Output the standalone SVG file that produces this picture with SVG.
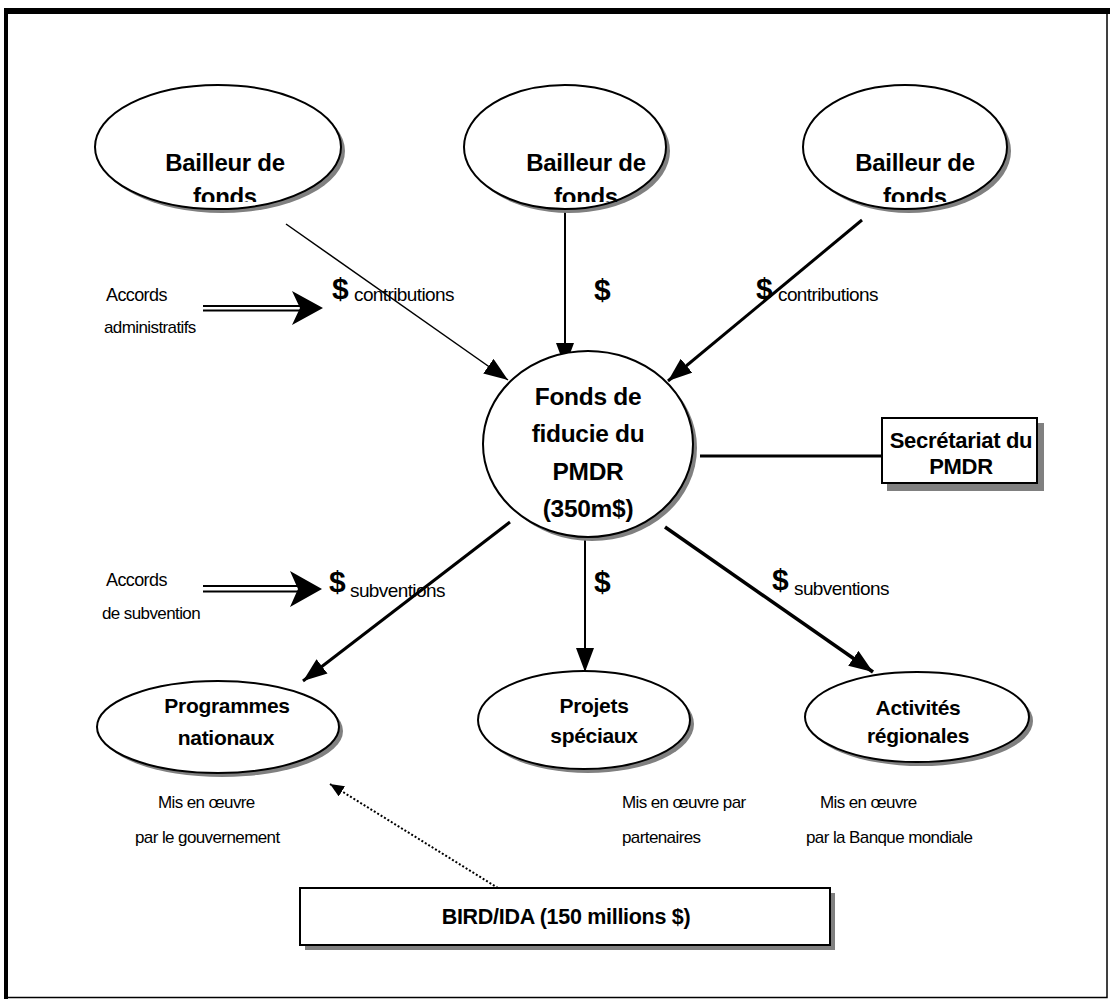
<svg xmlns="http://www.w3.org/2000/svg" width="1110" height="999" viewBox="0 0 1110 999">
<style>
.sh{fill:#808080;stroke:none}
.nd{fill:#fff;stroke:#000;stroke-width:2}
.b{font-family:"Liberation Sans",Arial,sans-serif;font-weight:bold;fill:#000;text-anchor:middle;letter-spacing:-0.3px}
.t{font-family:"Liberation Sans",Arial,sans-serif;fill:#000;letter-spacing:-0.6px}
.d{font-family:"Liberation Sans",Arial,sans-serif;font-weight:bold;font-size:30px;fill:#000}
.ln{stroke:#000;fill:none}
</style>
<defs>
<marker id="ah" viewBox="0 0 24 18" markerWidth="24" markerHeight="18" refX="24" refY="9" orient="auto" markerUnits="userSpaceOnUse">
<path d="M0,0 L24,9 L0,18 Z" fill="#000"/>
</marker>
<marker id="ahs" viewBox="0 0 14 12" markerWidth="14" markerHeight="12" refX="14" refY="6" orient="auto" markerUnits="userSpaceOnUse">
<path d="M0,0 L14,6 L0,12 Z" fill="#000"/>
</marker>
<clipPath id="c1"><rect x="80" y="80" width="280" height="122"/></clipPath>
<clipPath id="c2"><rect x="450" y="80" width="240" height="122"/></clipPath>
<clipPath id="c3"><rect x="790" y="80" width="240" height="122"/></clipPath>
</defs>
<rect width="1110" height="999" fill="#fff"/>
<g id="frame">
<rect x="6" y="11" width="1101" height="986.5" fill="none" stroke="#000" stroke-width="1.5"/>
<rect x="4" y="8" width="1106" height="6" fill="#000"/>
<rect x="4" y="8" width="4" height="991" fill="#000"/>
</g>
<g id="connectors">
<line class="ln" x1="286" y1="224" x2="508" y2="380" stroke-width="1.5" marker-end="url(#ah)"/>
<line class="ln" x1="565" y1="210" x2="565" y2="367" stroke-width="2" marker-end="url(#ah)"/>
<line class="ln" x1="862" y1="220" x2="668" y2="381" stroke-width="3" marker-end="url(#ah)"/>
<line class="ln" x1="510" y1="522" x2="303" y2="681" stroke-width="3" marker-end="url(#ah)"/>
<line class="ln" x1="585" y1="540" x2="585" y2="672" stroke-width="2" marker-end="url(#ah)"/>
<line class="ln" x1="665" y1="527" x2="873" y2="672" stroke-width="3.5" marker-end="url(#ah)"/>
<line class="ln" x1="700" y1="456" x2="882" y2="456" stroke-width="3"/>
<line class="ln" x1="498" y1="888" x2="330" y2="784" stroke-width="2" stroke-dasharray="2 2" marker-end="url(#ahs)"/>
<g id="dbl1">
<line class="ln" x1="203" y1="306" x2="300" y2="306" stroke-width="2"/>
<line class="ln" x1="203" y1="310.5" x2="300" y2="310.5" stroke-width="2"/>
<path d="M323,308 L292,291 L300,308 L292,325 Z" fill="#000"/>
</g>
<g id="dbl2">
<line class="ln" x1="203" y1="586" x2="298" y2="586" stroke-width="2"/>
<line class="ln" x1="203" y1="591.5" x2="298" y2="591.5" stroke-width="2"/>
<path d="M322,589 L290,571 L298,589 L290,607 Z" fill="#000"/>
</g>
</g>
<g id="n-bailleur1">
<ellipse class="sh" cx="222" cy="151" rx="123" ry="62"/>
<ellipse class="nd" cx="218" cy="147" rx="123" ry="62"/>
<g clip-path="url(#c1)"><text class="b" font-size="24" x="225" y="171">Bailleur de</text><text class="b" font-size="24" x="225" y="205">fonds</text></g>
</g>
<g id="n-bailleur2">
<ellipse class="sh" cx="569" cy="151" rx="101" ry="62"/>
<ellipse class="nd" cx="565" cy="147" rx="101" ry="62"/>
<g clip-path="url(#c2)"><text class="b" font-size="24" x="586" y="171">Bailleur de</text><text class="b" font-size="24" x="586" y="205">fonds</text></g>
</g>
<g id="n-bailleur3">
<ellipse class="sh" cx="909" cy="151" rx="102" ry="62"/>
<ellipse class="nd" cx="905" cy="147" rx="102" ry="62"/>
<g clip-path="url(#c3)"><text class="b" font-size="24" x="915" y="171">Bailleur de</text><text class="b" font-size="24" x="915" y="205">fonds</text></g>
</g>
<g id="n-fonds">
<ellipse class="sh" cx="592" cy="448" rx="105" ry="93"/>
<ellipse class="nd" cx="588" cy="444" rx="105" ry="93"/>
<text class="b" font-size="24.5" x="588" y="405">Fonds de</text>
<text class="b" font-size="24.5" x="588" y="442">fiducie du</text>
<text class="b" font-size="24.5" x="588" y="480">PMDR</text>
<text class="b" font-size="24.5" x="588" y="517">(350m$)</text>
</g>
<g id="n-secretariat">
<rect class="sh" x="887" y="423" width="157" height="68"/>
<rect class="nd" x="882" y="418" width="155" height="65"/>
<text class="b" font-size="22" x="961" y="448">Secrétariat du</text>
<text class="b" font-size="22" x="961" y="474">PMDR</text>
</g>
<g id="n-programmes">
<ellipse class="sh" cx="222" cy="731" rx="121" ry="46"/>
<ellipse class="nd" cx="218" cy="727" rx="121" ry="46"/>
<text class="b" font-size="21" x="227" y="713">Programmes</text>
<text class="b" font-size="21" x="226" y="745">nationaux</text>
</g>
<g id="n-projets">
<ellipse class="sh" cx="588" cy="724" rx="106" ry="49"/>
<ellipse class="nd" cx="584" cy="720" rx="106" ry="49"/>
<text class="b" font-size="21" x="594" y="713">Projets</text>
<text class="b" font-size="21" x="594" y="743">spéciaux</text>
</g>
<g id="n-activites">
<ellipse class="sh" cx="921" cy="721" rx="112" ry="45"/>
<ellipse class="nd" cx="917" cy="717" rx="112" ry="45"/>
<text class="b" font-size="21" x="918" y="715">Activités</text>
<text class="b" font-size="21" x="918" y="743">régionales</text>
</g>
<g id="n-bird">
<rect class="sh" x="305" y="893" width="530" height="57"/>
<rect class="nd" x="300" y="888" width="530" height="57"/>
<text class="b" font-size="21.5" x="566" y="924">BIRD/IDA (150 millions $)</text>
</g>
<g id="labels">
<text class="t" font-size="18" x="106" y="301">Accords</text>
<text class="t" font-size="17" x="104" y="333">administratifs</text>
<text class="t" font-size="18" x="106" y="586">Accords</text>
<text class="t" font-size="17" x="102" y="619">de subvention</text>
<text class="d" x="332" y="299">$</text><text class="t" font-size="19" x="354" y="301" letter-spacing="-0.3">contributions</text>
<text class="d" x="594" y="300">$</text>
<text class="d" x="756" y="299">$</text><text class="t" font-size="19" x="778" y="301" letter-spacing="-0.3">contributions</text>
<text class="d" x="329" y="592">$</text><text class="t" font-size="19" x="350" y="597" letter-spacing="-0.3">subventions</text>
<text class="d" x="594" y="592">$</text>
<text class="d" x="772" y="590">$</text><text class="t" font-size="19" x="794" y="595" letter-spacing="-0.3">subventions</text>
<text class="t" font-size="17" x="158" y="808" letter-spacing="-0.9">Mis en œuvre</text>
<text class="t" font-size="17" x="135" y="843">par le gouvernement</text>
<text class="t" font-size="17" x="622" y="808" letter-spacing="-0.9">Mis en œuvre par</text>
<text class="t" font-size="17" x="622" y="843">partenaires</text>
<text class="t" font-size="17" x="820" y="808" letter-spacing="-0.9">Mis en œuvre</text>
<text class="t" font-size="17" x="806" y="843" letter-spacing="-0.3">par la Banque mondiale</text>
</g>
</svg>
